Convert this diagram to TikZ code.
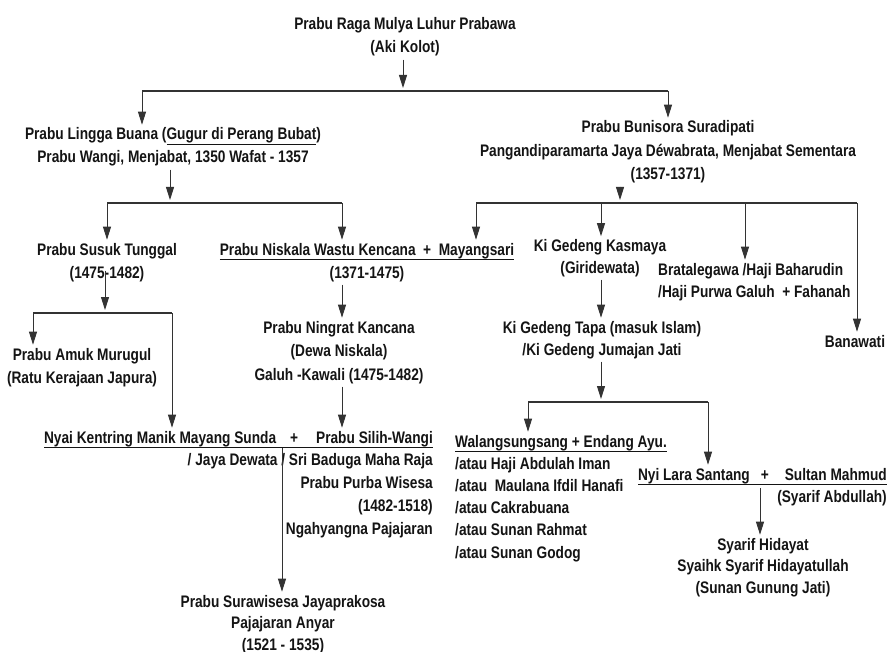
\documentclass[tikz,border=0pt]{standalone}
\usepackage{fontspec}
\setmainfont{Liberation Sans}[FakeStretch=0.82]
\usetikzlibrary{arrows.meta}
\definecolor{txt}{HTML}{141414}
\definecolor{ln}{HTML}{333333}
\newcommand\myul[1]{\setbox0\hbox{#1}\rlap{\rule[-5pt]{\wd0}{1pt}}\box0}
\begin{document}
\begin{tikzpicture}[x=1pt,y=-1pt,
  person/.style={align=center, inner xsep=0pt, inner ysep=3pt, text=txt,
    font=\fontsize{16.7}{22.6}\selectfont\bfseries},
  lsk/.style={font=\fontsize{16.7}{#1}\selectfont\bfseries},
  stem/.style={draw=ln, line width=0.9pt, -{Triangle[length=13pt,width=8pt]}},
  bar/.style={draw=ln, line width=1.3pt}]
\useasboundingbox[fill=white] (0,0) rectangle (893,652);

% ---- people (anchor = baseline of the last line) ----
\node[person, lsk=23, anchor=base] (raga) at (405,53) {Prabu Raga Mulya Luhur Prabawa\\(Aki Kolot)};
\node[person, lsk=23, anchor=base] (lingga) at (173,163) {Prabu Lingga Buana (\myul{Gugur di Perang Bubat})\\Prabu Wangi, Menjabat, 1350 Wafat - 1357};
\node[person, lsk=23.5, anchor=base] (bunisora) at (668,180) {Prabu Bunisora Suradipati\\Pangandiparamarta Jaya Déwabrata, Menjabat Sementara\\(1357-1371)};
\node[person, lsk=23, anchor=base] (susuk) at (107,278) {Prabu Susuk Tunggal\\(1475-1482)};
\node[person, lsk=23, anchor=base] (niskala) at (367,278) {\myul{Prabu Niskala Wastu Kencana\ \ +\ \ Mayangsari}\\(1371-1475)};
\node[person, lsk=23, anchor=base] (amuk) at (82,383) {Prabu Amuk Murugul\\(Ratu Kerajaan Japura)};
\node[person, lsk=23.5, anchor=base] (ningrat) at (339,380) {Prabu Ningrat Kancana\\(Dewa Niskala)\\Galuh -Kawali (1475-1482)};
\node[person, lsk=22.75, anchor=base east, align=right] (nyai) at (433,534) {\myul{Nyai Kentring Manik Mayang Sunda\hspace{14pt}+\hspace{18pt}Prabu Silih-Wangi}\\/ Jaya Dewata / Sri Baduga Maha Raja\\Prabu Purba Wisesa\\(1482-1518)\\Ngahyangna Pajajaran};
\node[person, lsk=21.5, anchor=base] (surawisesa) at (283,650) {Prabu Surawisesa Jayaprakosa\\Pajajaran Anyar\\(1521 - 1535)};
\node[person, lsk=21.5, anchor=base] (kasmaya) at (600,273) {Ki Gedeng Kasmaya\\(Giridewata)};
\node[person, lsk=22, anchor=base] (tapa) at (602,355) {Ki Gedeng Tapa (masuk Islam)\\/Ki Gedeng Jumajan Jati};
\node[person, lsk=22, anchor=base west, align=left] (brata) at (658,297) {Bratalegawa /Haji Baharudin\\/Haji Purwa Galuh\ \ + Fahanah};
\node[person, anchor=base] (banawati) at (855,347) {Banawati};
\node[person, lsk=22.2, anchor=base west, align=left] (walang) at (455,558) {\myul{Walangsungsang + Endang Ayu.}\\/atau Haji Abdulah Iman\\/atau\ \ Maulana Ifdil Hanafi\\/atau Cakrabuana\\/atau Sunan Rahmat\\/atau Sunan Godog};
\node[person, lsk=22, anchor=base east, align=right] (nyilara) at (887,502) {\myul{Nyi Lara Santang\hspace{11pt}+\hspace{16pt}Sultan Mahmud}\\(Syarif Abdullah)};
\node[person, lsk=21.5, anchor=base] (syarif) at (763,593) {Syarif Hidayat\\Syaihk Syarif Hidayatullah\\(Sunan Gunung Jati)};

% ---- junction coordinates ----
\coordinate (j1) at (403,91);  \coordinate (j1l) at (142,91);  \coordinate (j1r) at (668,91);
\coordinate (j2) at (170,203); \coordinate (j2l) at (107,203); \coordinate (j2r) at (342,203);
\coordinate (j3) at (620,203); \coordinate (j3a) at (476,203); \coordinate (j3b) at (601,203);
\coordinate (j3c) at (745,203); \coordinate (j3d) at (857,203);
\coordinate (j4) at (105,313); \coordinate (j4l) at (33,313);  \coordinate (j4r) at (172,313);
\coordinate (j5) at (601,402); \coordinate (j5l) at (528,402); \coordinate (j5r) at (708,402);
\coordinate (nyaiu) at (282,448);
\coordinate (lara) at (760,488);

% ---- connectors ----
\draw[stem, shorten >=3pt] (raga.south -| j1) -- (j1);
\draw[bar] (j1l) -- (j1r);
\draw[stem] (j1l) -- (j1l |- lingga.north);
\draw[stem] (j1r) -- (j1r |- bunisora.north);

\draw[stem, shorten >=3pt] (lingga.south -| j2) -- (j2);
\draw[bar] (j2l) -- (j2r);
\draw[stem] (j2l) -- (j2l |- susuk.north);
\draw[stem] (j2r) -- (j2r |- niskala.north);

\draw[stem, shorten >=3pt] (bunisora.south -| j3) -- (j3);
\draw[bar] (j3a) -- (j3d);
\draw[stem] (j3a) -- (j3a |- niskala.north);
\draw[stem] (j3b) -- (j3b |- kasmaya.north);
\draw[stem] (j3c) -- (j3c |- brata.north);
\draw[stem] (j3d) -- (j3d |- banawati.north);

\draw[stem, shorten >=3pt] ([yshift=14pt]susuk.south -| j4) -- (j4);
\draw[bar] (j4l) -- (j4r);
\draw[stem] (j4l) -- (j4l |- amuk.north);
\draw[stem] (j4r) -- (j4r |- nyai.north);

\draw[stem] (niskala.south -| j2r) -- (j2r |- ningrat.north);
\draw[stem] (ningrat.south -| j2r) -- (j2r |- nyai.north);
\draw[stem] (nyaiu) -- (nyaiu |- surawisesa.north);

\draw[stem] (kasmaya.south -| j3b) -- (j3b |- tapa.north);
\draw[stem, shorten >=3pt] (tapa.south -| j5) -- (j5);
\draw[bar] (j5l) -- (j5r);
\draw[stem] (j5l) -- (j5l |- walang.north);
\draw[stem] (j5r) -- (j5r |- nyilara.north);
\draw[stem] (lara) -- (lara |- syarif.north);
\end{tikzpicture}
\end{document}
